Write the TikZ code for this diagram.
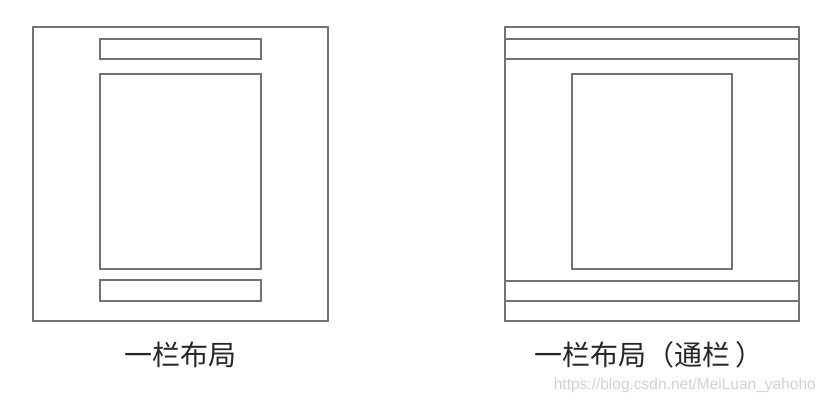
\documentclass[tikz,border=0pt]{standalone}
\usepackage{fontspec}
\setmainfont{Liberation Sans}
\newfontfamily\cjk{Noto Sans CJK SC}
\begin{document}
\begin{tikzpicture}[x=1pt,y=-1pt,
  frame/.style={draw=black!55, line width=1.4pt},
  caption/.style={font=\cjk\fontsize{28}{32}\selectfont, text=black!85, inner sep=0pt},
  wmark/.style={font=\fontsize{15.5}{18}\selectfont, text=black!18, inner sep=0pt}]
\useasboundingbox (0,0) rectangle (825,403);
% left layout
\node[frame, minimum width=295pt, minimum height=294pt, inner sep=0pt] (Lout) at (180.5,174) {};
\node[frame, minimum width=161pt, minimum height=20pt, inner sep=0pt] (Lhead) at (180.5,49) {};
\node[frame, minimum width=161pt, minimum height=195pt, inner sep=0pt] (Lmain) at (180.5,171.5) {};
\node[frame, minimum width=161pt, minimum height=21pt, inner sep=0pt] (Lfoot) at (180.5,290.5) {};
% right layout
\node[frame, minimum width=294pt, minimum height=294pt, inner sep=0pt] (Rout) at (652,174) {};
\coordinate (r1) at (505,39);
\coordinate (r2) at (505,59);
\coordinate (r3) at (505,281);
\coordinate (r4) at (505,301);
\draw[frame] (r1) -- (r1 -| Rout.east);
\draw[frame] (r2) -- (r2 -| Rout.east);
\draw[frame] (r3) -- (r3 -| Rout.east);
\draw[frame] (r4) -- (r4 -| Rout.east);
\node[frame, minimum width=160pt, minimum height=195pt, inner sep=0pt] (Rmain) at (652,171.5) {};
% captions
\node[caption] (Lcap) at (180.5,355) {一栏布局};
\node[caption, anchor=west] (Rcap) at (534,355) {一栏布局（通栏\hspace{5pt}）};
\node[wmark, anchor=east] (wm) at (816,385) {https://blog.csdn.net/MeiLuan\_yahoho};
\end{tikzpicture}
\end{document}
